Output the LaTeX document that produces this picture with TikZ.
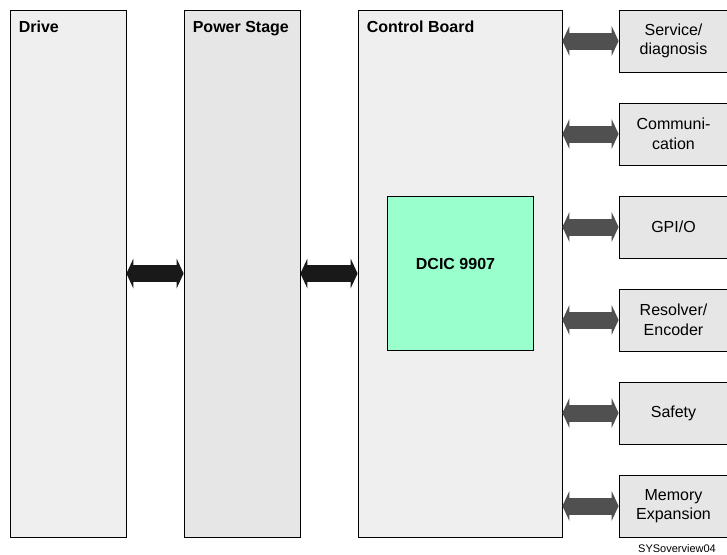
\documentclass[tikz,border=0pt]{standalone}
\usepackage{fontspec}
\setmainfont{Liberation Sans}
\usetikzlibrary{shadows}
\usetikzlibrary{arrows.meta}

\definecolor{paneA}{HTML}{EFEFEF}
\definecolor{paneB}{HTML}{E6E6E6}
\definecolor{chip}{HTML}{99FFCC}
\definecolor{linkgray}{HTML}{505050}

\tikzset{
  pane/.style={draw=black, line width=0.8pt, inner sep=0pt,
    drop shadow={shadow xshift=1pt, shadow yshift=-1.2pt, fill=black!20, opacity=1}},
  title/.style={anchor=base west, inner sep=0pt, font={\fontsize{16}{19}\selectfont\bfseries}},
  unit/.style={pane, fill=paneB, minimum width=109pt, minimum height=62pt,
    align=center, font={\fontsize{16}{19.5}\selectfont}},
  bigarrow/.style={line width=17pt, black!90,
    {Triangle[length=7pt,width=30pt,line width=0pt]}-{Triangle[length=7pt,width=30pt,line width=0pt]}},
  sidearrow/.style={bigarrow, linkgray}
}

\begin{document}
\begin{tikzpicture}[x=1pt,y=-1pt]
  \useasboundingbox (0,0) rectangle (727,554);

  % the three main boards
  \node [pane, fill=paneA, minimum width=116pt, minimum height=527pt] (drive) at (68,273.5) {};
  \node [pane, fill=paneB, minimum width=116pt, minimum height=527pt] (power) at (242,273.5) {};
  \node [pane, fill=paneA, minimum width=204pt, minimum height=527pt] (control) at (460,273.5) {};

  \node [title] (drivetitle) at ([xshift=9pt,yshift=-23pt]drive.north west) {Drive};
  \node [title] (powertitle) at ([xshift=9pt,yshift=-23pt]power.north west) {Power Stage};
  \node [title] (controltitle) at ([xshift=9pt,yshift=-23pt]control.north west) {Control Board};

  \node [draw=black, line width=0.8pt, fill=chip, minimum width=146pt, minimum height=154pt] (dcic) at (460,273) {};
  \node [font={\fontsize{16}{19}\selectfont\bfseries}] (dcictext) at (455.5,264) {DCIC 9907};

  % peripheral units
  \node [unit] (service) at (673.5,41) {Service/\\diagnosis};
  \node [unit] (comm) at (673.5,134) {Communi-\\cation};
  \node [unit] (gpio) at (673.5,227) {GPI/O};
  \node [unit] (resolver) at (673.5,320) {Resolver/\\Encoder};
  \node [unit] (safety) at (673.5,413) {Safety};
  \node [unit] (memory) at (673.5,506) {Memory\\Expansion};

  % links
  \draw [bigarrow] (drive.east) -- (power.west);
  \draw [bigarrow] (power.east) -- (control.west);
  \draw [sidearrow] (control.east |- service) -- (service.west);
  \draw [sidearrow] (control.east |- comm) -- (comm.west);
  \draw [sidearrow] (control.east |- gpio) -- (gpio.west);
  \draw [sidearrow] (control.east |- resolver) -- (resolver.west);
  \draw [sidearrow] (control.east |- safety) -- (safety.west);
  \draw [sidearrow] (control.east |- memory) -- (memory.west);

  \node [anchor=base, inner sep=0pt, font={\fontsize{11}{13}\selectfont}] (tag) at (677,552.5) {SYSoverview04};

\end{tikzpicture}
\end{document}
